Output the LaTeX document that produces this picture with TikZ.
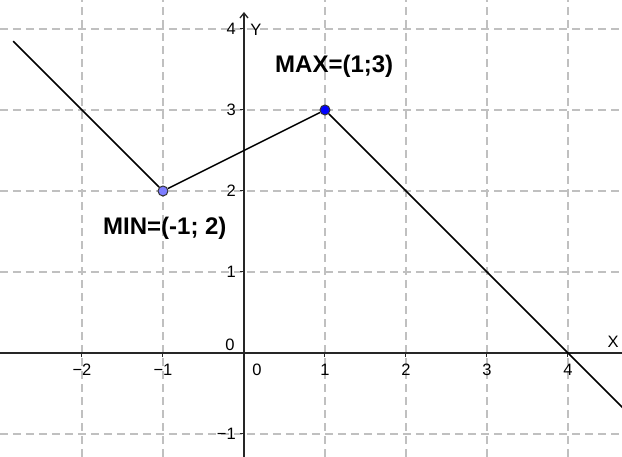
\documentclass[tikz,border=0pt]{standalone}
\usepackage{fontspec}
\setmainfont{Liberation Sans}
\usepackage{tikz}
\usepackage{xcolor}
\usetikzlibrary{arrows.meta}
\definecolor{gridgray}{RGB}{192,192,192}
\definecolor{minblue}{RGB}{125,125,255}
\definecolor{maxblue}{RGB}{0,0,255}

\begin{document}
\begin{tikzpicture}[x=81pt, y=81pt,
    gridline/.style={draw=gridgray, line width=1.2pt,
                     dash pattern=on 8pt off 5pt},
    axis/.style={line width=1.3pt, draw=black!85},
    graph/.style={line width=1.5pt, draw=black},
    tick/.style={font=\fontsize{16.5}{19}\selectfont, inner sep=0pt},
    extremum/.style={circle, draw=black!80, line width=1pt,
                     minimum size=10pt, inner sep=0pt},
    caption/.style={font=\fontsize{24}{28}\selectfont\bfseries,
                    anchor=base west, inner sep=0pt}
]
    \useasboundingbox (-3.0123,-1.284) rectangle (4.6667,4.358);
    \clip (-3.0123,-1.284) rectangle (4.6667,4.358);

    % grid
    \foreach \gx in {-2,-1,1,2,3,4}
        \draw[gridline] (\gx,-1.284) -- (\gx,4.358);
    \foreach \gy in {-1,1,2,3,4}
        \draw[gridline] (-3.0123,\gy) -- (4.6667,\gy);

    % axes
    \coordinate (xl) at (-3.0123,0);
    \coordinate (xr) at (4.6667,0);
    \coordinate (yb) at (0,-1.284);
    \coordinate (yt) at (0,4.21);
    \draw[axis] (xl) -- (xr);
    \draw[axis, -{Straight Barb[length=5pt, width=8pt]}] (yb) -- (yt);

    \foreach \gx/\lab in {-2/−2,-1/−1,1/1,2/2,3/3,4/4} {
        \draw[axis, line width=1pt] (\gx,0) -- (\gx,-0.05);
        \node[tick] (tx\gx) at (\gx,-0.21) {\lab};
    }
    \foreach \gy/\lab in {-1/−1,1/1,2/2,3/3,4/4} {
        \draw[axis, line width=1pt] (0,\gy) -- (-0.05,\gy);
        \node[tick, anchor=east] (ty\gy) at (-0.1,\gy) {\lab};
    }
    \node[tick] (oy) at (-0.173,0.099) {0};
    \node[tick] (ox) at (0.16,-0.21) {0};
    \node[tick] (xlab) at (4.556,0.136) {X};
    \node[tick] (ylab) at (0.148,3.988) {Y};

    % function
    \coordinate (start) at (-2.85,3.85);
    \coordinate (stop) at (4.7,-0.7);
    \node[extremum, fill=minblue] (min) at (-1,2) {};
    \node[extremum, fill=maxblue] (max) at (1,3) {};
    \draw[graph] (start) -- (min) -- (max) -- (stop);

    \node[caption] (minlab) at (-1.741,1.457) {MIN=(-1; 2)};
    \node[caption] (maxlab) at (0.383,3.469) {MAX=(1;3)};
\end{tikzpicture}
\end{document}
